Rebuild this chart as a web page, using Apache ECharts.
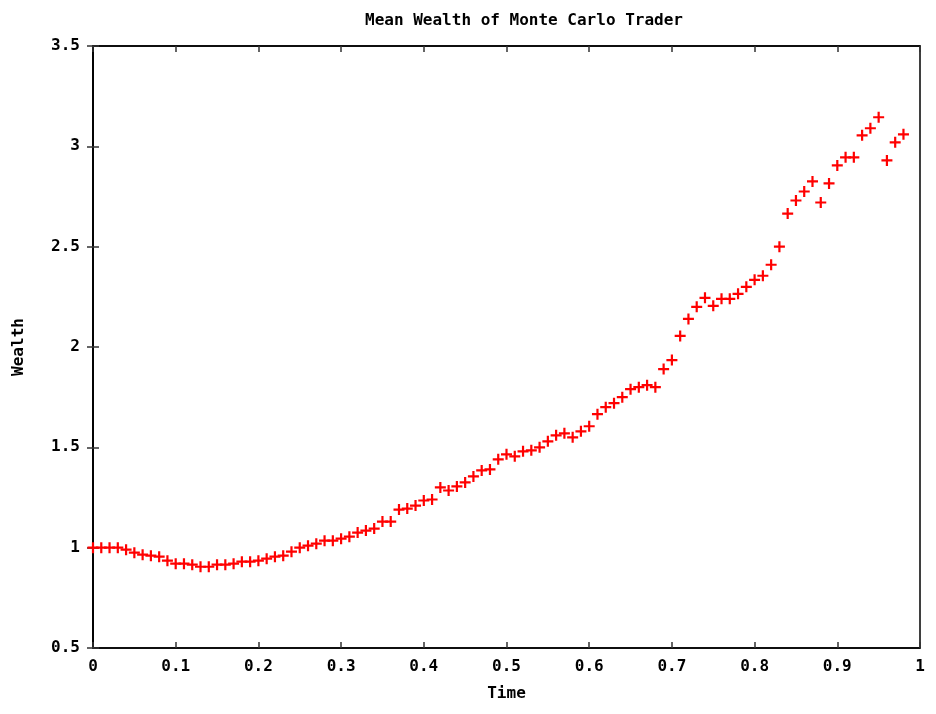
<!DOCTYPE html>
<html>
<head>
<meta charset="utf-8">
<script src="https://cdn.jsdelivr.net/npm/echarts@6/dist/echarts.min.js"></script>
<style>html,body{margin:0;padding:0;background:#fff}#chart{width:936px;height:714px}</style>
</head>
<body>
<div id="chart"></div>
<script>
const title = 'Mean Wealth of Monte Carlo Trader';
const xName = 'Time';
const yName = 'Wealth';
const times = [0.00,0.01,0.02,0.03,0.04,0.05,0.06,0.07,0.08,0.09,
  0.10,0.11,0.12,0.13,0.14,0.15,0.16,0.17,0.18,0.19,
  0.20,0.21,0.22,0.23,0.24,0.25,0.26,0.27,0.28,0.29,
  0.30,0.31,0.32,0.33,0.34,0.35,0.36,0.37,0.38,0.39,
  0.40,0.41,0.42,0.43,0.44,0.45,0.46,0.47,0.48,0.49,
  0.50,0.51,0.52,0.53,0.54,0.55,0.56,0.57,0.58,0.59,
  0.60,0.61,0.62,0.63,0.64,0.65,0.66,0.67,0.68,0.69,
  0.70,0.71,0.72,0.73,0.74,0.75,0.76,0.77,0.78,0.79,
  0.80,0.81,0.82,0.83,0.84,0.85,0.86,0.87,0.88,0.89,
  0.90,0.91,0.92,0.93,0.94,0.95,0.96,0.97,0.98];
const wealth = [1.00,1.00,1.00,1.00,0.99,0.975,0.965,0.96,0.955,0.935,
  0.92,0.92,0.915,0.905,0.905,0.915,0.915,0.92,0.93,0.93,
  0.935,0.945,0.955,0.96,0.98,1.00,1.01,1.02,1.035,1.035,
  1.045,1.055,1.075,1.085,1.095,1.13,1.13,1.19,1.195,1.21,
  1.235,1.24,1.30,1.285,1.305,1.325,1.355,1.385,1.39,1.44,
  1.465,1.455,1.48,1.485,1.50,1.53,1.56,1.57,1.55,1.58,
  1.605,1.665,1.70,1.72,1.75,1.79,1.80,1.81,1.80,1.89,
  1.935,2.055,2.14,2.20,2.245,2.205,2.24,2.24,2.265,2.30,
  2.335,2.355,2.41,2.50,2.665,2.73,2.775,2.825,2.72,2.815,
  2.905,2.945,2.945,3.055,3.09,3.145,2.93,3.02,3.06];
const xTicks = [0,0.1,0.2,0.3,0.4,0.5,0.6,0.7,0.8,0.9,1];
const yTicks = [0.5,1,1.5,2,2.5,3,3.5];

const font = 'DejaVu Sans Mono';
const labelStyle = {color:'#000', fontFamily:font, fontWeight:'bold', fontSize:16};
const tickStyle = {show:true, inside:true, length:6, lineStyle:{color:'#333', width:1.5}};
const lineStyle = {color:'#000', width:1.5};

const chart = echarts.init(document.getElementById('chart'), null, {renderer:'canvas'});
chart.setOption({
  backgroundColor:'#fff',
  animation:false,
  title:{text:title, left:519, top:8, textAlign:'center',
    textStyle:{fontFamily:font, fontWeight:'bold', fontSize:16, color:'#000'}},
  grid:{left:93, right:16, top:46, bottom:66, show:true, borderColor:'#000', borderWidth:1.5},
  xAxis:[{
    type:'value', min:0, max:1, interval:0.1, position:'bottom',
    name:xName, nameLocation:'middle', nameGap:38, nameTextStyle:labelStyle,
    axisLine:{show:true, lineStyle:lineStyle}, axisTick:tickStyle, splitLine:{show:false},
    axisLabel:Object.assign({margin:11, formatter:v=>xTicks.includes(+v.toFixed(1)) ? String(+v.toFixed(1)) : ''}, labelStyle)
  },{
    type:'value', min:0, max:1, interval:0.1, position:'top',
    axisLine:{show:true, lineStyle:lineStyle}, axisTick:tickStyle, splitLine:{show:false},
    axisLabel:{show:false}
  }],
  yAxis:[{
    type:'value', min:0.5, max:3.5, interval:0.5, position:'left',
    name:yName, nameLocation:'middle', nameGap:66, nameRotate:90, nameTextStyle:labelStyle,
    axisLine:{show:true, lineStyle:lineStyle}, axisTick:tickStyle, splitLine:{show:false},
    axisLabel:Object.assign({margin:13, formatter:v=>yTicks.includes(+v.toFixed(1)) ? String(+v.toFixed(1)) : ''}, labelStyle)
  },{
    type:'value', min:0.5, max:3.5, interval:0.5, position:'right',
    axisLine:{show:true, lineStyle:lineStyle}, axisTick:tickStyle, splitLine:{show:false},
    axisLabel:{show:false}
  }],
  series:[{
    type:'scatter',
    xAxisIndex:0, yAxisIndex:0,
    data:times.map((t,i)=>[t, wealth[i]]),
    symbol:'path://M4,0H6V4H10V6H6V10H4V6H0V4H4Z',
    symbolSize:11,
    itemStyle:{color:'#ff0000', opacity:1},
    clip:false
  }]
});
</script>
</body>
</html>
